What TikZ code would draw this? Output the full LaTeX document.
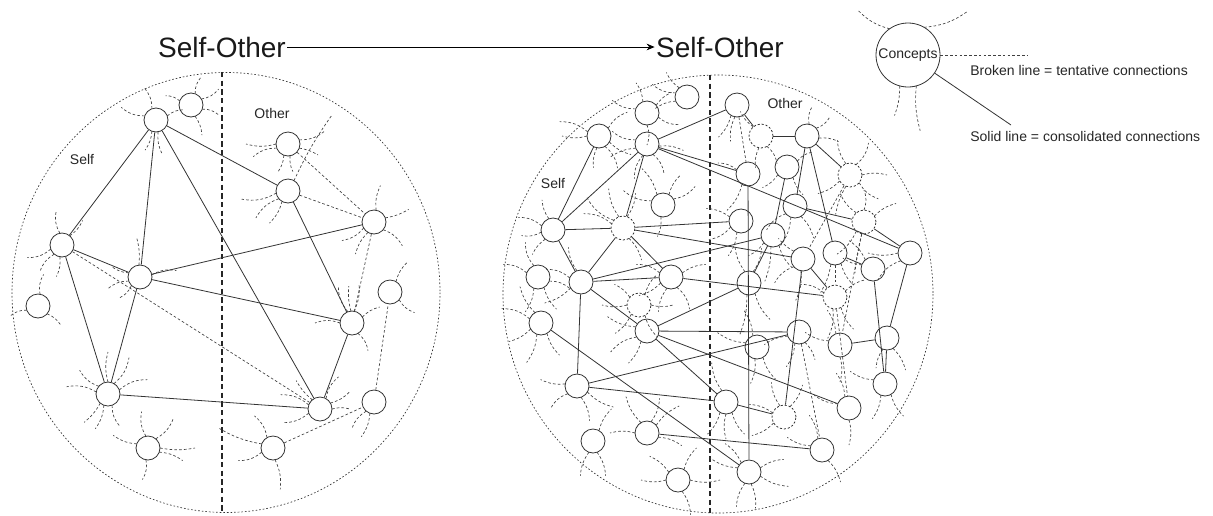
\documentclass[tikz,border=0pt]{standalone}
\usepackage{fontspec}
\setmainfont{Liberation Sans}
\usetikzlibrary{calc,arrows.meta}
\newcommand\tds[2]{\foreach \a/\l/\b in {#2}{\draw[tend] ($(#1)+(\a:12)$) to[bend left=\b] ++(\a:\l);}}
\begin{document}
\begin{tikzpicture}[x=0.75pt,y=-0.75pt,
  cn/.style={circle,draw=black!80,line width=0.6pt,fill=white,minimum size=18pt,inner sep=0pt},
  dn/.style={cn,dash pattern=on 1.6pt off 1.4pt},
  con/.style={draw=black!80,line width=0.6pt},
  dcon/.style={draw=black!75,line width=0.5pt,dash pattern=on 2pt off 1.6pt},
  tend/.style={dcon},
  region/.style={draw=black!80,line width=0.5pt,dash pattern=on 1.2pt off 1.5pt},
  divider/.style={draw=black!85,line width=1.3pt,dash pattern=on 4pt off 2.5pt},
  lab/.style={font=\fontsize{10.5}{12}\selectfont,text=black!85,inner sep=0pt},
  ttl/.style={font=\fontsize{21}{24}\selectfont,text=black!90,inner sep=1pt},
]
\useasboundingbox (0,0) rectangle (1213,515);
% regions
\draw[region] (226,292.5) ellipse [x radius=214, y radius=220];
\draw[region] (718,294) ellipse [x radius=215, y radius=219];
\draw[divider] (222,72) -- (222,513);
\draw[divider] (710,75) -- (710,513);
% titles
\node[ttl] (t1) at (222,47) {Self-Other};
\node[ttl] (t2) at (720,47) {Self-Other};
\draw[line width=0.6pt,-{Stealth[length=6pt,width=5pt]}] (t1.east) -- (t2.west);
\node[lab] (ls) at (82,159) {Self};
\node[lab] (lo) at (272,113) {Other};
\node[lab] (rs) at (553,183) {Self};
\node[lab] (ro) at (785,103) {Other};
% ---------- left nodes
\node[cn] (A) at (156,120) {};
\node[cn] (B) at (191,105) {};
\node[cn] (C) at (62,245) {};
\node[cn] (D) at (140,277) {};
\node[cn] (E) at (288,144) {};
\node[cn] (F) at (288,191) {};
\node[cn] (G) at (374,222) {};
\node[cn] (H) at (390,292) {};
\node[cn] (I) at (38,306) {};
\node[cn] (J) at (108,394) {};
\node[cn] (K) at (148,448) {};
\node[cn] (L) at (352,323) {};
\node[cn] (M) at (320,409) {};
\node[cn] (N) at (374,402) {};
\node[cn] (O) at (273,448) {};
\foreach \u/\v in {A/C,A/D,A/F,A/M,C/D,C/J,D/J,D/G,D/L,F/L,L/M,J/M}{\draw[con] (\u) -- (\v);}
\foreach \u/\v in {C/M,E/G,F/G,G/L,N/H,O/N}{\draw[dcon] (\u) -- (\v);}
\tds{A}{200/25/20, 250/22/-20, 110/20/15, 80/22/-15, 340/18/20}
\tds{B}{290/18/20, 330/20/-20, 70/20/15, 200/15/-20, 20/18/20}
\tds{C}{260/22/20, 310/20/-15, 160/25/20, 130/22/-20, 100/20/15}
\tds{D}{265/28/-10, 350/25/20, 160/22/-20, 200/18/15, 135/18/20}
\tds{E}{180/30/15, 160/25/-20, 340/28/-20, 110/18/15, 80/16/-15, 20/20/10}
\tds{F}{170/35/20, 140/30/-20, 120/25/15, 300/75/5}
\tds{G}{280/25/15, 340/25/-10, 40/25/20, 120/25/-15, 150/25/20}
\tds{H}{300/22/15, 40/20/-20}
\tds{I}{280/20/20, 160/18/-20, 40/18/15}
\tds{J}{270/30/15, 300/30/-20, 340/30/20, 190/30/-20, 220/25/20, 110/25/15, 70/22/-20, 130/25/10}
\tds{K}{260/25/20, 310/28/-20, 200/25/15, 0/35/-10, 100/20/20, 20/25/15}
\tds{L}{265/25/10, 280/28/-15, 250/28/20, 330/20/15, 180/25/-20, 60/20/20}
\tds{M}{300/25/20, 330/22/-15, 0/18/15, 200/30/-20, 160/28/20, 230/25/10}
\tds{N}{110/25/15, 130/22/-20}
\tds{O}{200/45/10, 240/25/-20, 80/30/15, 160/25/20}
% ---------- right nodes
\node[cn] (R1) at (647,113) {};
\node[cn] (R2) at (599,136) {};
\node[cn] (R3) at (647,144) {};
\node[cn] (R4) at (553,230) {};
\node[dn] (dN) at (623,228) {};
\node[cn] (R5) at (663,205) {};
\node[cn] (R6) at (687,97) {};
\node[cn] (R7) at (737,105) {};
\node[dn] (R8) at (761,136) {};
\node[cn] (R9) at (807,136) {};
\node[cn] (R10) at (748,174) {};
\node[cn] (R11) at (787,167) {};
\node[cn] (R12) at (795,206) {};
\node[cn] (R13) at (741,221) {};
\node[cn] (R14) at (773,235) {};
\node[dn] (R15) at (850,175) {};
\node[dn] (R16) at (864,222) {};
\node[cn] (R17) at (910,253) {};
\node[cn] (R18) at (835,253) {};
\node[cn] (R19) at (803,259) {};
\node[cn] (R20) at (873,269) {};
\node[dn] (R21) at (835,297) {};
\node[cn] (R22) at (538,277) {};
\node[cn] (R23) at (581,282) {};
\node[dn] (R24) at (639,305) {};
\node[cn] (R25) at (541,323) {};
\node[cn] (R26) at (647,331) {};
\node[cn] (R27) at (577,386) {};
\node[cn] (R30) at (671,277) {};
\node[cn] (R31) at (749,283) {};
\node[cn] (R33) at (757,347) {};
\node[cn] (R35) at (799,332) {};
\node[cn] (R36) at (593,441) {};
\node[cn] (R37) at (647,433) {};
\node[cn] (R38) at (726,402) {};
\node[dn] (R39) at (784,417) {};
\node[cn] (R41) at (678,480) {};
\node[cn] (R42) at (749,472) {};
\node[cn] (P1) at (840,345) {};
\node[cn] (P2) at (887,338) {};
\node[cn] (P3) at (885,384) {};
\node[cn] (P4) at (849,408) {};
\node[cn] (P5) at (822,450) {};
\foreach \u/\v in {R2/R4,R3/R4,R3/dN,R4/dN,R4/R23,R3/R7,R3/R10,R3/R17,R7/R8,R8/R9,R11/R14,R9/R12,R9/R18,R9/R15,R12/R16,R16/R17,R18/R20,R19/R21,dN/R13,dN/R23,dN/R30,dN/R19,R23/R14,R23/R30,R23/R26,R23/R27,R26/R31,R26/R35,R26/R38,R14/R31,R25/R42,R27/R35,R27/R38,R38/R39,R39/R19,R37/P5,R26/P4,R17/P2,R20/P3,R30/R21,P1/P2,P2/P3,R10/R42}{\draw[con] (\u) -- (\v);}
\foreach \u/\v in {R7/R10,R15/R19,R16/P1,R18/R21,R21/P4,R35/P5}{\draw[dcon] (\u) -- (\v);}
\tds{R1}{200/25/20, 250/20/-15, 320/20/15, 20/22/-20, 90/20/20}
\tds{R2}{180/25/15, 200/30/-20, 320/25/20, 30/25/-15, 60/25/20, 100/20/-15}
\tds{R3}{200/25/20, 160/28/-15, 60/22/20, 110/25/-20, 10/25/15}
\tds{R4}{250/20/15, 200/25/-20, 170/20/20, 130/20/-15}
\tds{dN}{250/30/15, 200/30/-20, 220/35/20, 290/25/-15, 60/25/15}
\tds{R5}{200/30/20, 240/30/-15, 300/22/15, 330/25/-20, 100/20/15}
\tds{R6}{200/25/20, 160/22/-15, 230/20/15}
\tds{R7}{120/25/15, 100/25/-15}
\tds{R8}{230/20/15, 100/20/-15, 60/20/20}
\tds{R9}{280/18/20, 320/18/-20, 10/20/15}
\tds{R10}{120/30/15, 200/20/-20}
\tds{R11}{140/20/15, 60/20/-15, 330/18/20}
\tds{R12}{110/30/15, 140/25/-20, 60/25/15}
\tds{R13}{150/25/20, 200/25/-15, 110/25/15}
\tds{R14}{100/35/10, 60/25/-15, 140/20/15}
\tds{R15}{250/25/15, 300/25/-20, 0/25/15, 40/25/-20, 150/25/15, 110/30/-10}
\tds{R16}{230/25/15, 270/20/-20, 330/25/15, 100/40/-5, 130/30/15}
\tds{R17}{180/30/15, 140/30/-20}
\tds{R18}{110/30/10, 60/25/-15}
\tds{R19}{100/30/15, 140/25/-20, 220/20/10}
\tds{R20}{200/20/15, 230/25/-15}
\tds{R21}{100/30/15, 200/25/-20, 330/22/15, 60/25/-15}
\tds{R22}{250/25/20, 200/25/-20, 110/25/15, 60/25/-15, 20/22/20}
\tds{R23}{250/25/15, 200/25/-20, 150/30/15}
\tds{R24}{180/25/15, 220/20/-15, 300/22/15, 0/22/-15, 130/25/15, 60/25/-15}
\tds{R25}{240/30/15, 200/30/-20, 110/30/15, 60/25/-15, 150/25/15}
\tds{R26}{200/30/15, 150/30/-20, 120/25/15}
\tds{R27}{190/25/15, 140/22/-20, 70/25/15, 30/30/-15}
\tds{R30}{340/25/15, 200/25/-20, 150/25/15, 110/25/-15, 60/25/20}
\tds{R31}{250/30/15, 290/25/-15, 100/40/10, 60/30/-15}
\tds{R33}{200/30/15, 250/28/-15, 100/25/15, 60/25/-15}
\tds{R35}{110/25/15, 160/25/-15, 60/20/15}
\tds{R36}{70/25/15, 110/25/-15, 300/25/15}
\tds{R37}{240/30/15, 290/25/-15, 320/30/15, 180/25/-15, 20/25/15}
\tds{R38}{250/30/15, 90/25/-15, 120/25/15, 60/25/-15}
\tds{R39}{150/25/15, 200/25/-15, 250/25/15, 300/25/-15}
\tds{R41}{180/25/15, 220/25/-15, 300/25/15, 0/30/-15, 70/25/15}
\tds{R42}{200/30/15, 230/25/-15, 340/25/15, 20/30/-15, 80/25/15, 110/25/-15}
\tds{P1}{200/25/15, 250/25/-15, 90/25/15}
\tds{P2}{60/25/15, 110/20/-15}
\tds{P3}{110/25/15, 60/25/-15, 200/25/15}
\tds{P4}{200/25/15, 250/25/-15, 90/25/15}
\tds{P5}{200/25/15, 250/25/-15, 60/25/15}
% ---------- legend
\node[cn,minimum size=48pt] (KC) at (908,55) {};
\node[lab] (kt) at (KC) {Concepts};
\coordinate (kb) at (1027,55);
\coordinate (ks) at (1011,125);
\draw[dcon] (KC) -- (kb);
\draw[con] (KC) -- (ks);
\draw[tend] ($(KC)+(235:32)$) to[bend left=15] ++(210:36);
\draw[tend] ($(KC)+(300:32)$) to[bend left=-15] ++(340:46);
\draw[tend] ($(KC)+(105:32)$) to[bend left=10] ++(100:30);
\draw[tend] ($(KC)+(75:32)$) to[bend left=-10] ++(85:45);
\node[lab,anchor=west] (kbt) at (970,70) {Broken line = tentative connections};
\node[lab,anchor=west] (kst) at (970,136) {Solid line = consolidated connections};
\end{tikzpicture}
\end{document}
